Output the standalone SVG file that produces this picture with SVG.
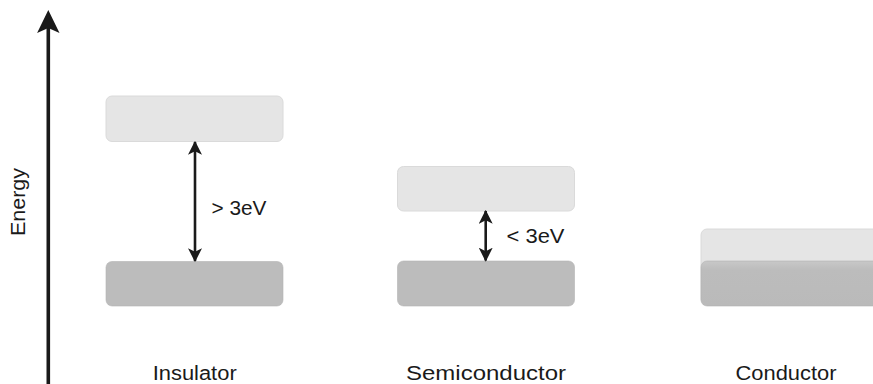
<svg xmlns="http://www.w3.org/2000/svg" width="873" height="384" viewBox="0 0 873 384">
  <style>
    .light { fill: #e5e5e5; stroke: #dadada; stroke-width: 1; }
    .dark { fill: #bcbcbc; stroke: #b4b4b4; stroke-width: 0.6; }
    .txt { font-family: "Liberation Sans", Arial, sans-serif; font-size: 20px; fill: #1a1a1a; }
    .conn { stroke: #1a1a1a; stroke-width: 2.6; fill: none; }
  </style>
  <defs>
    <marker id="head" viewBox="0 0 12 12" refX="11" refY="6" markerUnits="userSpaceOnUse" markerWidth="14" markerHeight="14" orient="auto-start-reverse">
      <path d="M0,0 L12,6 L0,12 L3,6 Z" fill="#1a1a1a"/>
    </marker>
    <linearGradient id="condDark" x1="0" y1="0" x2="0" y2="1">
      <stop offset="0" stop-color="#c8c8c8"/>
      <stop offset="0.2" stop-color="#bcbcbc"/>
      <stop offset="1" stop-color="#bababa"/>
    </linearGradient>
  </defs>
  <rect width="873" height="384" fill="#ffffff"/>

  <g id="energy-axis">
    <line x1="48.3" y1="384" x2="48.3" y2="26" stroke="#1a1a1a" stroke-width="3.6"/>
    <path d="M48.3,10 L59.5,33 L48.3,28 L37.1,33 Z" fill="#1a1a1a"/>
    <text class="txt" transform="translate(25,202) rotate(-90)" text-anchor="middle" textLength="68" lengthAdjust="spacingAndGlyphs">Energy</text>
  </g>

  <g id="insulator">
    <rect class="light" x="106" y="96" width="177" height="45.5" rx="6"/>
    <rect class="dark" x="106" y="261.5" width="177" height="44.5" rx="6"/>
    <text class="txt" x="194.7" y="380" text-anchor="middle" textLength="84" lengthAdjust="spacingAndGlyphs">Insulator</text>
  </g>

  <g id="semiconductor">
    <rect class="light" x="397.5" y="166.5" width="177" height="44.5" rx="6"/>
    <rect class="dark" x="397.5" y="261" width="177" height="45" rx="6"/>
    <text class="txt" x="486" y="380" text-anchor="middle" textLength="160" lengthAdjust="spacingAndGlyphs">Semiconductor</text>
  </g>

  <g id="conductor">
    <rect class="light" x="701" y="229" width="190" height="76" rx="6"/>
    <rect x="701" y="261" width="190" height="45" rx="6" fill="url(#condDark)" stroke="#b4b4b4" stroke-width="0.6"/>
    <text class="txt" x="786" y="380" text-anchor="middle" textLength="101" lengthAdjust="spacingAndGlyphs">Conductor</text>
  </g>

  <g id="connectors">
    <line class="conn" x1="195" y1="142" x2="195" y2="261" marker-start="url(#head)" marker-end="url(#head)"/>
    <text class="txt" x="211.5" y="215" textLength="55" lengthAdjust="spacingAndGlyphs">&gt; 3eV</text>
    <line class="conn" x1="485.7" y1="211" x2="485.7" y2="260.5" marker-start="url(#head)" marker-end="url(#head)"/>
    <text class="txt" x="506.5" y="243" textLength="58" lengthAdjust="spacingAndGlyphs">&lt; 3eV</text>
  </g>
</svg>
